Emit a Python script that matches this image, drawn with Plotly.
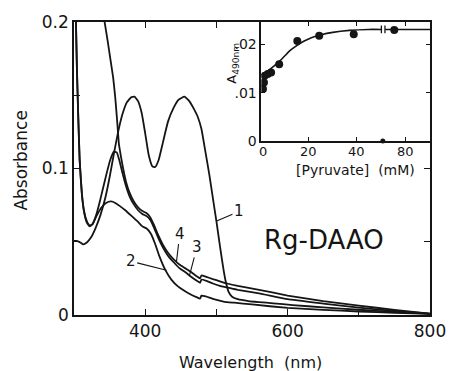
import plotly.graph_objects as go

W, H = 458, 371
ML, MR, MT, MB = 74, 21, 21, 56
PW, PH = W - ML - MR, H - MT - MB

# ---------------- main spectra (wavelength nm, absorbance) ----------------
wl_1 = [300, 305, 309, 313, 318, 324, 330, 337, 344, 350, 356, 362, 368, 374, 380, 385,
        390, 395, 400, 405, 410, 414, 419, 425, 432, 440, 447, 455, 462, 468, 474, 479,
        484, 490, 495, 500, 505, 510, 513, 517, 522, 530, 545, 560, 580, 607, 650, 700,
        750, 800]
abs_1 = [0.0505, 0.0505, 0.0495, 0.0482, 0.0495, 0.053, 0.059, 0.068, 0.080, 0.094,
         0.110, 0.125, 0.137, 0.145, 0.1485, 0.149, 0.146, 0.138, 0.124, 0.109, 0.1015,
         0.101, 0.106, 0.118, 0.132, 0.1415, 0.147, 0.149, 0.146, 0.141, 0.135, 0.127,
         0.113, 0.096, 0.080, 0.064, 0.047, 0.031, 0.023, 0.016, 0.0125, 0.0108, 0.0095,
         0.0088, 0.0080, 0.0068, 0.0052, 0.0036, 0.0021, 0.0008]

wl_2 = [300, 302, 304, 306, 308, 311, 314, 318, 322, 326, 331, 338, 345, 352, 358, 364,
        372, 380, 390, 396, 402, 408, 414, 420, 428, 437, 446, 455, 464, 472, 477, 479,
        485, 495, 510, 525, 550, 600, 650, 700, 750, 800]
abs_2 = [0.30, 0.22, 0.17, 0.135, 0.105, 0.083, 0.071, 0.064, 0.061, 0.062, 0.067, 0.073,
         0.0765, 0.0775, 0.0765, 0.0745, 0.0715, 0.068, 0.0635, 0.0605, 0.059, 0.0555,
         0.0485, 0.040, 0.031, 0.024, 0.0195, 0.0165, 0.014, 0.0122, 0.0112, 0.0132,
         0.0127, 0.011, 0.0092, 0.0084, 0.0072, 0.0048, 0.0035, 0.0024, 0.0015, 0.0008]

wl_3 = [300, 302, 304, 306, 308, 311, 314, 318, 322, 326, 331, 336, 341, 346, 351, 356,
        360, 364, 368, 373, 378, 384, 390, 396, 402, 407, 412, 418, 425, 432, 440, 448,
        456, 464, 472, 477, 479, 486, 495, 505, 515, 530, 560, 600, 650, 700, 750, 800]
abs_3 = [0.30, 0.22, 0.17, 0.135, 0.105, 0.083, 0.071, 0.063, 0.0605, 0.062, 0.068,
         0.077, 0.087, 0.097, 0.106, 0.1115, 0.111, 0.105, 0.097, 0.088, 0.081, 0.0755,
         0.0715, 0.069, 0.0675, 0.065, 0.060, 0.053, 0.046, 0.0405, 0.036, 0.032, 0.0293,
         0.0263, 0.0235, 0.0220, 0.0242, 0.0233, 0.0215, 0.0198, 0.0188, 0.0172, 0.0148,
         0.0108, 0.0078, 0.0050, 0.0028, 0.0010]

wl_4 = [338, 343, 347, 351, 355, 358, 361, 363, 366, 369, 373, 378, 384, 390, 396, 402,
        407, 412, 418, 425, 432, 440, 448, 456, 464, 472, 477, 479, 486, 495, 505, 515,
        530, 560, 600, 650, 700, 750, 800]
abs_4 = [0.215, 0.200, 0.188, 0.175, 0.162, 0.148, 0.130, 0.117, 0.108, 0.100, 0.091,
         0.0835, 0.0775, 0.0735, 0.071, 0.0695, 0.0668, 0.0618, 0.0548, 0.0478, 0.0425,
         0.038, 0.0345, 0.032, 0.0295, 0.0265, 0.0250, 0.0270, 0.0260, 0.0245, 0.0230,
         0.0215, 0.0198, 0.0172, 0.0133, 0.0095, 0.0064, 0.0035, 0.0010]

curve_labels = ["1", "2", "3", "4"]

# main axis ticks
x_tickvals = [400, 600, 800]
x_ticktext = ["400", "600", "800"]
x_minor = [500, 700]
y_tickvals = [0, 0.1, 0.2]
y_ticktext = ["0", "0.1", "0.2"]
y_minor = [0.05, 0.15]

# ---------------- inset: A490 vs [pyruvate] ----------------
pyr_mM = [0.7, 1.1, 1.4, 2.7, 4.1, 7.5, 15.1, 24.3, 38.8, 75.3]
a490 = [0.0108, 0.0121, 0.0135, 0.0139, 0.0142, 0.0159, 0.0207, 0.0218, 0.0221, 0.0230]

fit_mM = [0, 2, 4, 6, 8, 10, 12, 15, 18, 21, 25, 30, 37, 45, 50.3, None, 71.5, 80, 90.3]
fit_a = [0.0136, 0.0143, 0.0150, 0.0158, 0.0167, 0.0177, 0.0187, 0.0198, 0.0207, 0.0214,
         0.0220, 0.0225, 0.0229, 0.0231, 0.0231, None, 0.0231, 0.0231, 0.0231]

inset_x_ticks_mM = [0, 20, 40, 80]
inset_x_ticktext = ["0", "20", "40", "80"]
inset_y_tickvals = [0, 0.01, 0.02]
inset_y_ticktext = ["0", ".01", ".02"]

# broken inset axis: values above BREAK_LO are shifted left by BREAK_GAP
BREAK_LO = 51.0
BREAK_GAP = 19.5


def to_disp(v):
    if v is None:
        return None
    return v if v <= BREAK_LO else v - BREAK_GAP


def P(px, py):
    return (px - ML) / PW, (H - MB - py) / PH


INK = "#151515"
FONT = "DejaVu Sans"

fig = go.Figure()

for wl, ab in [(wl_1, abs_1), (wl_2, abs_2), (wl_3, abs_3), (wl_4, abs_4)]:
    fig.add_trace(go.Scatter(x=wl, y=ab, mode="lines",
                             line=dict(color=INK, width=1.8, shape="spline", smoothing=0.4),
                             showlegend=False, hoverinfo="skip"))

# invisible trace to host overlay axes for top/right ticks
fig.add_trace(go.Scatter(x=[400], y=[0.1], xaxis="x3", yaxis="y3", mode="markers",
                         marker=dict(opacity=0), showlegend=False, hoverinfo="skip"))

# inset
fig.add_trace(go.Scatter(x=[to_disp(v) for v in fit_mM], y=fit_a, xaxis="x2", yaxis="y2",
                         mode="lines", line=dict(color=INK, width=1.6, shape="spline", smoothing=0.5),
                         connectgaps=False, showlegend=False, hoverinfo="skip"))
fig.add_trace(go.Scatter(x=[to_disp(v) for v in pyr_mM], y=a490, xaxis="x2", yaxis="y2",
                         mode="markers", marker=dict(color=INK, size=8),
                         showlegend=False, hoverinfo="skip"))
fig.add_trace(go.Scatter(x=[BREAK_LO], y=[0], xaxis="x2", yaxis="y2", mode="markers",
                         marker=dict(color=INK, size=5), cliponaxis=False,
                         showlegend=False, hoverinfo="skip"))

axis_common = dict(showgrid=False, zeroline=False, linecolor=INK, linewidth=1.5,
                   ticks="inside", tickcolor=INK, tickwidth=1.3)
tick_only = {k: v for k, v in axis_common.items() if k not in ("linecolor", "linewidth")}
minor_style = dict(ticks="inside", ticklen=6, tickcolor=INK, tickwidth=1.3, showgrid=False)

ix0, iy0 = P(265, 140.5)
inset_xmax = 70.8

fig.update_layout(
    width=W, height=H,
    margin=dict(l=ML, r=MR, t=MT, b=MB, pad=0),
    paper_bgcolor="white", plot_bgcolor="white",
    font=dict(family=FONT, color=INK),
    xaxis=dict(range=[300, 800], tickvals=x_tickvals, ticktext=x_ticktext, ticklen=6,
               minor=dict(tickvals=x_minor, **minor_style),
               showline=True, mirror=True, tickfont=dict(size=17), domain=[0, 1], **axis_common),
    yaxis=dict(range=[0, 0.2], tickvals=y_tickvals, ticktext=y_ticktext, ticklen=6,
               minor=dict(tickvals=y_minor, **minor_style),
               showline=True, mirror=True, tickfont=dict(size=17), domain=[0, 1], **axis_common),
    xaxis3=dict(overlaying="x", side="top", anchor="y", range=[300, 800], tickvals=[400, 500],
                ticklen=6, showticklabels=False, showline=False, **tick_only),
    yaxis3=dict(overlaying="y", side="right", anchor="x", range=[0, 0.2], tickvals=[0.05, 0.1],
                ticklen=6, showticklabels=False, showline=False, **tick_only),
    xaxis2=dict(domain=[ix0, 1], anchor="y2", range=[0, inset_xmax],
                tickvals=[to_disp(v) for v in inset_x_ticks_mM],
                ticklen=4, showline=True, mirror="ticks", showticklabels=False, **axis_common),
    yaxis2=dict(domain=[iy0, 1], anchor="x2", range=[0, 0.02464],
                tickvals=inset_y_tickvals, ticktext=inset_y_ticktext,
                ticklen=4, showline=True, mirror="ticks", tickfont=dict(size=14), **axis_common),
)

# inset x tick labels placed just under the inset axis
_, lab_y = P(0, 151)
for v, t in zip(inset_x_ticks_mM, inset_x_ticktext):
    fig.add_annotation(x=to_disp(v) + (0.7 if v == 0 else 0), y=lab_y, xref="x2", yref="paper",
                       text=t, showarrow=False, font=dict(size=13, color=INK),
                       xanchor="center", yanchor="middle")

# break marks on inset curve
for xb in (BREAK_LO - 0.6, BREAK_LO + 0.9):
    fig.add_shape(type="line", xref="x2", yref="y2", x0=xb, x1=xb, y0=0.0223, y1=0.0239,
                  line=dict(color=INK, width=1.3))

# curve labels with leaders: (label, tip wl, tip A, text wl, text A)
leaders = [("1", 500.4, 0.0641, 531.7, 0.0707),
           ("2", 430.0, 0.0306, 379.6, 0.0367),
           ("3", 462.3, 0.0272, 472.8, 0.0465),
           ("4", 443.9, 0.0363, 448.6, 0.0556)]
for lab, tx, ty, ax, ay in leaders:
    fig.add_annotation(x=tx, y=ty, xref="x", yref="y", ax=ax, ay=ay, axref="x", ayref="y",
                       text=lab, showarrow=True, arrowhead=0, arrowwidth=1.1, arrowcolor=INK,
                       standoff=0, font=dict(size=15, color=INK))

texts = [
    ("Absorbance", 19, 160, 17, -90),
    ("Wavelength  (nm)", 254, 363, 16, 0),
    ("Rg-DAAO", 329, 240, 26, 0),
    ("[Pyruvate]  (mM)", 361, 170, 14, 0),
    ("A<sub>490nm</sub>", 236, 62, 13, -90),
]
for t, px, py, fs, ang in texts:
    xp, yp = P(px, py)
    fig.add_annotation(x=xp, y=yp, xref="paper", yref="paper", text=t, showarrow=False,
                       textangle=ang, font=dict(size=fs, color=INK), xanchor="center", yanchor="middle")

fig.write_html("out.html")
